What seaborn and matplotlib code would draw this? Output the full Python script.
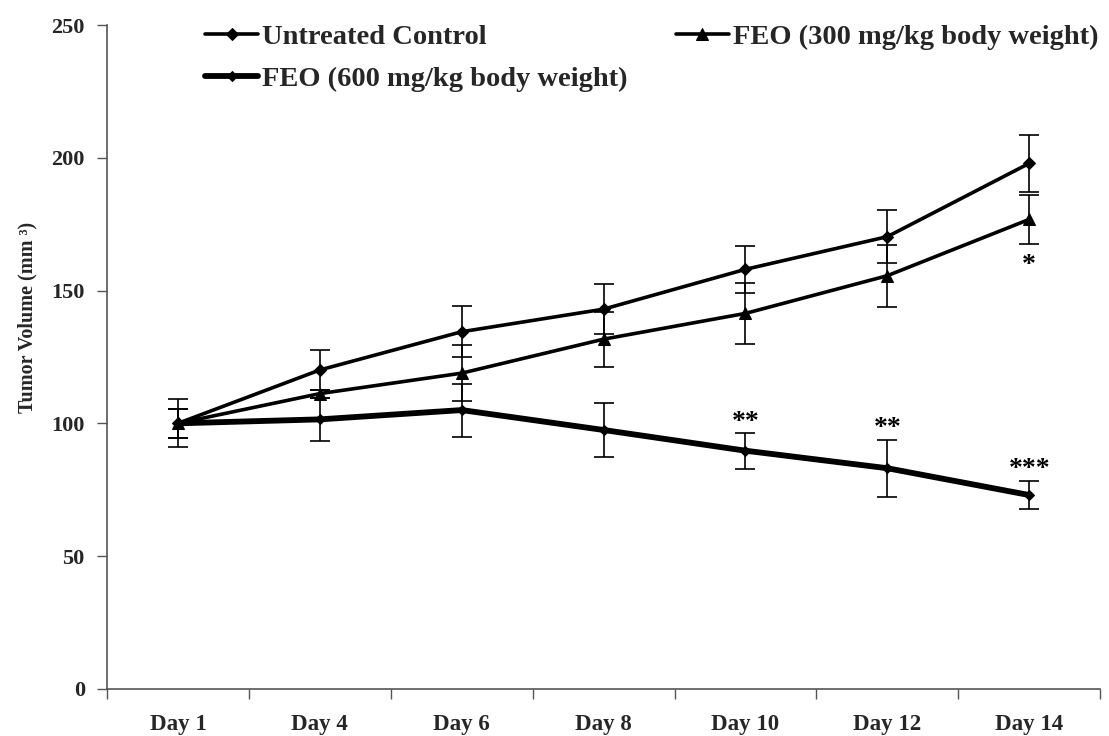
import numpy as np
import pandas as pd
import matplotlib
matplotlib.use("Agg")
import matplotlib.pyplot as plt
import seaborn as sns

sns.set_theme(style="white")
plt.rcParams["font.family"] = ["Liberation Serif", "DejaVu Serif"]
plt.rcParams["font.weight"] = "bold"

# data
days = ["Day 1", "Day 4", "Day 6", "Day 8", "Day 10", "Day 12", "Day 14"]
control = [100, 120.1, 134.5, 143.0, 158.0, 170.3, 197.9]
control_err = [9.0, 7.5, 9.7, 9.4, 8.9, 10.0, 10.7]
feo300 = [100, 111.2, 118.9, 131.7, 141.4, 155.6, 176.8]
feo300_err = [5.5, 1.5, 10.5, 10.4, 11.6, 11.6, 9.3]
feo600 = [100, 101.5, 105.0, 97.5, 89.7, 83.1, 73.0]
feo600_err = [5.5, 8.0, 10.0, 10.0, 6.8, 10.8, 5.4]

# significance marks (day, height, label)
sig_days = ["Day 14", "Day 10", "Day 12", "Day 14"]
sig_y = [159.5, 100.4, 98.2, 82.7]
sig_text = ["*", "**", "**", "***"]

labels = ["Untreated Control", "FEO (300 mg/kg body weight)",
          "FEO (600 mg/kg body weight)"]

pos = np.arange(len(days))
fig = plt.figure(figsize=(11.09, 7.36), dpi=100)
ax = fig.add_axes([0.0965, 0.064, 0.8955, 0.902])

styles = [
    (control, control_err, "D", 6, 2.6),
    (feo300, feo300_err, "^", 8, 2.6),
    (feo600, feo600_err, "D", 5, 4.2),
]
for (vals, err, mk, ms, lw), lab in zip(styles, labels):
    ax.errorbar(pos, vals, yerr=err, fmt="none", ecolor="black",
                elinewidth=1.2, capsize=7.5, capthick=1.2, zorder=2)
    sns.lineplot(x=pos, y=vals, ax=ax, color="black", marker=mk,
                 markersize=ms, linewidth=lw, markeredgecolor="black",
                 label=lab, zorder=3)

for d, y, t in zip(sig_days, sig_y, sig_text):
    ax.text(days.index(d), y, t, ha="center", va="center",
            fontsize=20, fontweight="bold", color="black")

ax.set_xlim(-0.5, len(days) - 0.5)
ax.set_ylim(0, 250)
ax.set_yticks([0, 50, 100, 150, 200, 250])
ax.set_xticks(pos)
ax.set_xticklabels(days, fontsize=16.5, fontweight="bold")
ax.set_xticks(np.arange(-0.5, len(days)), minor=True)
ax.tick_params(axis="x", which="major", length=0, pad=18)
ax.tick_params(axis="x", which="minor", length=7, width=1, color="#555555",
               direction="out", bottom=True)
ax.tick_params(axis="y", length=7, width=1, color="#555555",
               direction="out", left=True, labelsize=16, pad=9)
for lab in ax.get_yticklabels():
    lab.set_fontweight("bold")

ax.set_ylabel("Tumor Volume (mm ³)", fontsize=14.5, fontweight="bold")
ax.yaxis.set_label_coords(-0.0705, 0.56)
ax.set_xlabel("")

sns.despine(ax=ax)
for side in ["left", "bottom"]:
    ax.spines[side].set_color("#555555")
    ax.spines[side].set_linewidth(1.2)

h, l = ax.get_legend_handles_labels()
order = [0, 2, 1]
ax.legend([h[i] for i in order], [l[i] for i in order], ncol=2,
          loc="upper left", bbox_to_anchor=(0.185, 0.967),
          bbox_transform=fig.transFigure, frameon=False,
          prop={"size": 20.5, "weight": "bold"}, handlelength=1.85,
          handletextpad=0.15, columnspacing=1.7, labelspacing=0.54,
          borderaxespad=0, borderpad=0)

fig.savefig("out.png", dpi=100)
